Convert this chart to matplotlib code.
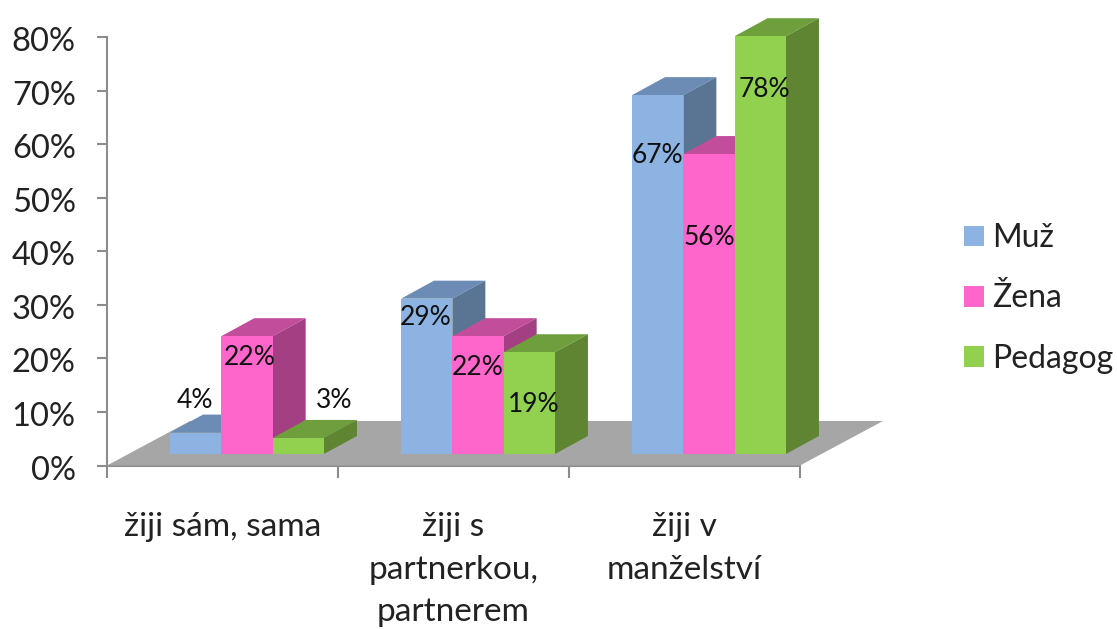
import numpy as np
import matplotlib
matplotlib.use("Agg")
import matplotlib.pyplot as plt
from matplotlib.patches import Patch
from matplotlib.transforms import ScaledTranslation

categories = ["žiji sám, sama", "žiji s\npartnerkou,\npartnerem", "žiji v\nmanželství"]
series_names = ["Muž", "Žena", "Pedagog"]
muz = [4, 29, 67]
zena = [22, 22, 56]
pedagog = [3, 19, 78]
y_ticks = [0, 10, 20, 30, 40, 50, 60, 70, 80]

front_colors = ["#8DB3E2", "#FF66CC", "#92D050"]
top_colors = ["#6C8CB5", "#C24E9B", "#6F9F3C"]
side_colors = ["#5A7494", "#A33F82", "#5F8533"]

W, H = 1117, 629
plt.rcParams["font.family"] = ["Lato", "DejaVu Sans"]
fig = plt.figure(figsize=(W / 100, H / 100), dpi=100, facecolor="white")
L, R, T, B = 107, 800, 37, 465.5
ax = fig.add_axes([L / W, 1 - B / H, (R - L) / W, (B - T) / H])
ax.set_xlim(0, 3)
ax.set_ylim(0, 80)
ax.patch.set_visible(False)

px_x = 3 / (R - L)
px_y = 80 / (B - T)

floor_dx, floor_dy = 83 * px_x, 44.5 * px_y
ax.fill([0, 3, 3 + floor_dx, floor_dx], [0, 0, floor_dy, floor_dy],
        color="#A6A6A6", lw=0, clip_on=False, zorder=1)

base = 11.5 * px_y
bar_w = 51.3 * px_x
group_shift = 24.5 * px_x
dx, dy = 33 * px_x, 18 * px_y

label_offsets = [[(-1, 32), (3, -21), (36, 37)],
                 [(-1, -19), (0, -31), (4, -52)],
                 [(0, -60), (0, -83), (4, -53)]]

all_series = [muz, zena, pedagog]
z = 2
for g in range(len(categories)):
    cx = g + 0.5 + group_shift
    for s, values in enumerate(all_series):
        v = values[g]
        x0 = cx + (s - 1.5) * bar_w
        x1 = x0 + bar_w
        top = base + v
        ax.fill([x0, x1, x1 + dx, x0 + dx], [top, top, top + dy, top + dy],
                color=top_colors[s], lw=0, clip_on=False, zorder=z)
        ax.fill([x1, x1 + dx, x1 + dx, x1], [base, base + dy, top + dy, top],
                color=side_colors[s], lw=0, clip_on=False, zorder=z)
        ax.bar(x0 + bar_w / 2, v, bar_w, bottom=base, color=front_colors[s],
               lw=0, clip_on=False, zorder=z + 0.5)
        z += 1

for g in range(len(categories)):
    cx = g + 0.5 + group_shift
    for s, values in enumerate(all_series):
        v = values[g]
        ox, oy = label_offsets[g][s]
        ax.annotate(f"{v}%", (cx + (s - 1) * bar_w, base + v),
                    xytext=(ox * 0.72, oy * 0.72), textcoords="offset points",
                    ha="center", va="center", fontsize=19, color="#111111",
                    zorder=100, annotation_clip=False)

for side in ("top", "right"):
    ax.spines[side].set_visible(False)
for side in ("left", "bottom"):
    ax.spines[side].set_color("#8C8C8C")
    ax.spines[side].set_linewidth(1.5)
    ax.spines[side].set_zorder(0.5)

ax.set_yticks(y_ticks)
ax.set_yticklabels([f"{t}%" for t in y_ticks])
ax.tick_params(axis="y", length=7.5, width=1.5, color="#8C8C8C", pad=15,
               labelsize=23.5, labelcolor="#222222")
shift = ScaledTranslation(0, -1.5 / 72, fig.dpi_scale_trans)
for lab in ax.get_yticklabels():
    lab.set_transform(lab.get_transform() + shift)
ax.set_xticks(range(len(categories) + 1))
ax.set_xticklabels([])
ax.tick_params(axis="x", which="major", length=8.5, width=1.5, color="#8C8C8C")
ax.set_xticks([g + 0.5 for g in range(len(categories))], minor=True)
ax.set_xticklabels(categories, minor=True, fontsize=24, color="#222222",
                   linespacing=1.52)
ax.tick_params(axis="x", which="minor", length=0, pad=33.5)

handles = [Patch(facecolor=c, edgecolor="none") for c in front_colors]
fig.legend(handles, series_names, loc="center left",
           bbox_to_anchor=(951 / W, 1 - 298.5 / H), frameon=False, fontsize=23,
           handlelength=0.626, handleheight=0.626, handletextpad=0.25,
           labelspacing=0.95, labelcolor="#222222", borderaxespad=0)

fig.savefig("out.png", dpi=100, facecolor="white")
